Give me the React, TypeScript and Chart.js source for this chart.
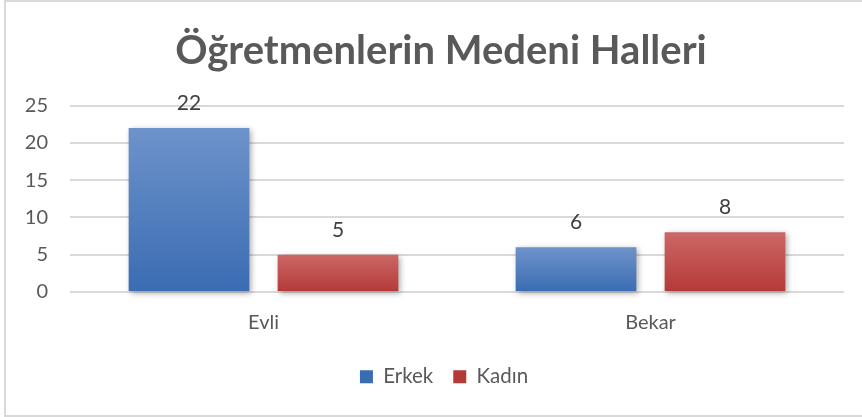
import React, { useEffect, useRef } from "react";
import { Chart, registerables } from "chart.js";

Chart.register(...registerables);

const categories = ["Evli", "Bekar"];
const erkekValues = [22, 6];
const kadinValues = [5, 8];
const seriesNames = ["Erkek", "Kadın"];
const yTicks = [0, 5, 10, 15, 20, 25];
const titleText = "Öğretmenlerin Medeni Halleri";

const FONT = "Lato, 'Open Sans', sans-serif";

function gradientFill(top: string, bottom: string, flat: string) {
  return (ctx: any) => {
    const chart = ctx.chart;
    const y = chart.scales && chart.scales.y;
    if (!y || ctx.type !== "data" || typeof ctx.raw !== "number") return flat;
    const t = y.getPixelForValue(ctx.raw);
    const b = y.getPixelForValue(0);
    if (!isFinite(t) || !isFinite(b) || t === b) return flat;
    const g = chart.ctx.createLinearGradient(0, t, 0, b);
    g.addColorStop(0, top);
    g.addColorStop(1, bottom);
    return g;
  };
}

const shadowPlugin = {
  id: "barShadow",
  beforeDatasetsDraw(chart: any) {
    const c = chart.ctx;
    c.save();
    c.shadowColor = "rgba(0,0,0,0.35)";
    c.shadowBlur = 6;
    c.shadowOffsetX = 2;
    c.shadowOffsetY = 2;
  },
  afterDatasetsDraw(chart: any) {
    chart.ctx.restore();
  },
};

const labelPlugin = {
  id: "valueLabels",
  afterDatasetsDraw(chart: any) {
    const c = chart.ctx;
    c.save();
    c.font = `21px ${FONT}`;
    c.fillStyle = "#404040";
    c.textAlign = "center";
    c.textBaseline = "alphabetic";
    chart.data.datasets.forEach((ds: any, i: number) => {
      const meta = chart.getDatasetMeta(i);
      meta.data.forEach((bar: any, j: number) => {
        c.fillText(String(ds.data[j]), bar.x, bar.y - 18);
      });
    });
    c.restore();
  },
};

// Centre title and legend over the chart frame rather than the full canvas.
const centerPlugin = {
  id: "centerBoxes",
  afterLayout(chart: any) {
    if (chart.titleBlock) chart.titleBlock.left = 38;
    if (chart.legend) chart.legend.left = 44;
  },
};

export default function App() {
  const ref = useRef<HTMLCanvasElement | null>(null);
  useEffect(() => {
    if (!ref.current) return;
    const chart = new Chart(ref.current, {
      type: "bar",
      data: {
        labels: categories,
        datasets: [
          {
            label: seriesNames[0],
            data: erkekValues,
            backgroundColor: gradientFill("#6e93cb", "#3a6cb2", "#4f7ec0"),
            barPercentage: 0.81,
            categoryPercentage: 0.77,
            clip: false as any,
          },
          {
            label: seriesNames[1],
            data: kadinValues,
            backgroundColor: gradientFill("#cb6866", "#b43937", "#c04f4c"),
            barPercentage: 0.81,
            categoryPercentage: 0.77,
            clip: false as any,
          },
        ],
      },
      options: {
        responsive: false,
        animation: false,
        layout: { padding: { left: 0, right: 18, top: 0, bottom: 20 } },
        plugins: {
          title: {
            display: true,
            text: titleText,
            color: "#595959",
            font: { family: FONT, size: 40, weight: "bold", lineHeight: 1.2 },
            padding: { top: 27, bottom: 30.5 },
          },
          legend: {
            position: "bottom",
            labels: {
              color: "#595959",
              font: { family: FONT, size: 20.5 },
              boxWidth: 13,
              boxHeight: 13,
              padding: 20,
            },
          },
          tooltip: { enabled: false },
        },
        scales: {
          x: {
            grid: { display: false, drawTicks: false },
            border: { display: false },
            ticks: { color: "#595959", font: { family: FONT, size: 20 }, padding: 19 },
            afterFit: (s: any) => {
              s.height = 54.5;
            },
          },
          y: {
            min: 0,
            max: 25,
            afterBuildTicks: (s: any) => {
              s.ticks = yTicks.map((v) => ({ value: v }));
            },
            grid: { color: "#d9d9d9", lineWidth: 2, drawTicks: false },
            border: { display: false },
            ticks: { color: "#595959", font: { family: FONT, size: 20 }, padding: 22 },
            afterFit: (s: any) => {
              s.width = 70;
            },
          },
        },
      },
      plugins: [shadowPlugin, labelPlugin, centerPlugin],
    });
    return () => chart.destroy();
  }, []);

  return (
    <div
      style={{
        position: "absolute",
        left: 0,
        top: 0,
        width: 862,
        height: 417,
        overflow: "hidden",
        background: "#ffffff",
      }}
    >
      <div
        style={{
          position: "absolute",
          left: 4,
          top: 0,
          width: 900,
          height: 413,
          border: "2px solid #d9d9d9",
          boxSizing: "content-box",
        }}
      />
      <canvas ref={ref} width={862} height={417} style={{ position: "absolute", left: 0, top: 0 }} />
    </div>
  );
}
